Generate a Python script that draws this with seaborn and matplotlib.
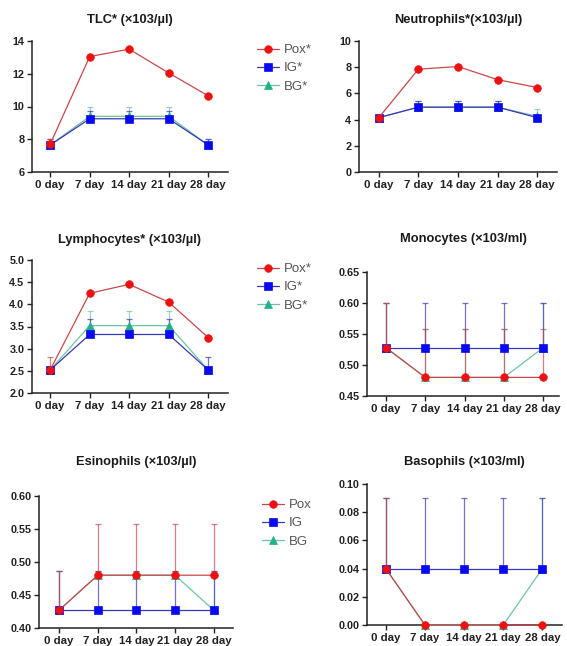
import numpy as np
import pandas as pd
import matplotlib
matplotlib.use("Agg")
import matplotlib.pyplot as plt
import seaborn as sns

days = ["0 day", "7 day", "14 day", "21 day", "28 day"]
groups = ["Pox", "IG", "BG"]

# means and upper SD per panel
tlc_pox = [7.7, 13.05, 13.5, 12.05, 10.65]
tlc_ig = [7.65, 9.25, 9.25, 9.25, 7.65]
tlc_bg = [7.65, 9.4, 9.4, 9.4, 7.65]
tlc_pox_sd = [0.3, 0.1, 0.1, 0.1, 0.1]
tlc_ig_sd = [0.35, 0.45, 0.45, 0.45, 0.35]
tlc_bg_sd = [0.35, 0.6, 0.6, 0.6, 0.35]

neu_pox = [4.15, 7.85, 8.05, 7.05, 6.45]
neu_ig = [4.15, 4.95, 4.95, 4.95, 4.15]
neu_bg = [4.15, 4.95, 4.95, 4.95, 4.25]
neu_pox_sd = [0.1, 0.1, 0.1, 0.1, 0.1]
neu_ig_sd = [0.1, 0.45, 0.45, 0.45, 0.1]
neu_bg_sd = [0.1, 0.45, 0.45, 0.45, 0.55]

lym_pox = [2.52, 4.25, 4.45, 4.05, 3.25]
lym_ig = [2.52, 3.32, 3.32, 3.32, 2.52]
lym_bg = [2.52, 3.52, 3.52, 3.52, 2.52]
lym_pox_sd = [0.3, 0.02, 0.02, 0.02, 0.02]
lym_ig_sd = [0.05, 0.36, 0.36, 0.36, 0.3]
lym_bg_sd = [0.05, 0.33, 0.33, 0.33, 0.05]

mon_pox = [0.528, 0.48, 0.48, 0.48, 0.48]
mon_ig = [0.528, 0.528, 0.528, 0.528, 0.528]
mon_bg = [0.528, 0.48, 0.48, 0.48, 0.528]
mon_pox_sd = [0.072, 0.078, 0.078, 0.078, 0.078]
mon_ig_sd = [0.072, 0.072, 0.072, 0.072, 0.072]
mon_bg_sd = [0.072, 0.078, 0.078, 0.078, 0.072]

eos_pox = [0.427, 0.48, 0.48, 0.48, 0.48]
eos_ig = [0.427, 0.427, 0.427, 0.427, 0.427]
eos_bg = [0.427, 0.48, 0.48, 0.48, 0.427]
eos_pox_sd = [0.06, 0.077, 0.077, 0.077, 0.077]
eos_ig_sd = [0.06, 0.06, 0.06, 0.06, 0.06]
eos_bg_sd = [0.06, 0.007, 0.007, 0.007, 0.06]

bas_pox = [0.04, 0.0, 0.0, 0.0, 0.0]
bas_ig = [0.04, 0.04, 0.04, 0.04, 0.04]
bas_bg = [0.04, 0.0, 0.0, 0.0, 0.04]
bas_pox_sd = [0.05, 0.0, 0.0, 0.0, 0.0]
bas_ig_sd = [0.05, 0.05, 0.05, 0.05, 0.05]
bas_bg_sd = [0.05, 0.0, 0.0, 0.0, 0.05]

line_col = {"Pox": "#c8474a", "IG": "#3838b8", "BG": "#6cc4a8"}
mark_col = {"Pox": "#ee1111", "IG": "#0a0af0", "BG": "#22b08a"}
markers = {"Pox": "o", "IG": "s", "BG": "^"}

sns.set_style("ticks")
plt.rcParams["font.family"] = ["Liberation Sans", "DejaVu Sans"]

fig = plt.figure(figsize=(5.67, 6.46), dpi=100)
W, H = 567, 646


def add_ax(left, right, top, bottom):
    return fig.add_axes([left / W, 1 - bottom / H, (right - left) / W, (bottom - top) / H])


def panel(ax, title, title_y, means, sds, ylim, yticks, fmt, xlim, legend=None):
    draw_order = ["BG", "IG", "Pox"]
    for g in draw_order:
        df = pd.DataFrame({"day": days, "value": means[g]})
        ax.errorbar(days, means[g], yerr=[np.zeros(len(days)), sds[g]], fmt="none",
                    ecolor=line_col[g], alpha=0.7, elinewidth=0.9, capsize=2.5,
                    capthick=0.9, clip_on=False, zorder=2)
        sns.lineplot(data=df, x="day", y="value", ax=ax, sort=False, color=line_col[g],
                     marker=markers[g], markersize=5.5, markerfacecolor=mark_col[g],
                     markeredgecolor=mark_col[g], markeredgewidth=0.5, linewidth=0.9,
                     label=legend[g] if legend else None, clip_on=False, zorder=3,
                     errorbar=None)
    ax.set_xlim(*xlim)
    ax.set_ylim(*ylim)
    ax.set_yticks(yticks)
    ax.set_yticklabels([fmt.format(v) for v in yticks])
    ax.set_xlabel("")
    ax.set_ylabel("")
    sns.despine(ax=ax)
    for s in ["left", "bottom"]:
        ax.spines[s].set_linewidth(1.1)
        ax.spines[s].set_color("#222222")
    ax.tick_params(axis="both", direction="out", length=3.5, width=1.0,
                   labelsize=7.8, colors="#222222", pad=2)
    ax.tick_params(axis="x", labelsize=8.2)
    for lab in ax.get_xticklabels() + ax.get_yticklabels():
        lab.set_fontweight("bold")
    bb = ax.get_position()
    fig.text((bb.x0 + bb.x1) / 2, 1 - title_y / H, title, ha="center", va="center",
             fontsize=9.3, fontweight="bold", color="#1a1a1a")
    if legend:
        h, l = ax.get_legend_handles_labels()
        order = [l.index(legend[g]) for g in groups]
        ax.legend([h[i] for i in order], [l[i] for i in order], loc="upper left",
                  bbox_to_anchor=(bb.x1 + 29 / W, bb.y1 - 3 / H), bbox_transform=fig.transFigure,
                  frameon=False, fontsize=9.5, labelcolor="#555555", handlelength=1.7,
                  handletextpad=0.35, labelspacing=0.45, borderpad=0, borderaxespad=0)
    elif ax.get_legend():
        ax.get_legend().remove()


star = {g: g + "*" for g in groups}
plain = {g: g for g in groups}

ax1 = add_ax(32, 228, 41, 172)
panel(ax1, "TLC* (×103/µl)", 20,
      {"Pox": tlc_pox, "IG": tlc_ig, "BG": tlc_bg},
      {"Pox": tlc_pox_sd, "IG": tlc_ig_sd, "BG": tlc_bg_sd},
      (6, 14), [6, 8, 10, 12, 14], "{:.0f}", (-0.46, 4.5), star)

ax2 = add_ax(359, 557, 41, 172)
panel(ax2, "Neutrophils*(×103/µl)", 20,
      {"Pox": neu_pox, "IG": neu_ig, "BG": neu_bg},
      {"Pox": neu_pox_sd, "IG": neu_ig_sd, "BG": neu_bg_sd},
      (0, 10), [0, 2, 4, 6, 8, 10], "{:.0f}", (-0.5, 4.5))

ax3 = add_ax(32, 228, 260, 393)
panel(ax3, "Lymphocytes* (×103/µl)", 240,
      {"Pox": lym_pox, "IG": lym_ig, "BG": lym_bg},
      {"Pox": lym_pox_sd, "IG": lym_ig_sd, "BG": lym_bg_sd},
      (2.0, 5.0), [2.0, 2.5, 3.0, 3.5, 4.0, 4.5, 5.0], "{:.1f}", (-0.46, 4.5), star)

ax4 = add_ax(367, 559, 272, 396)
panel(ax4, "Monocytes (×103/ml)", 239,
      {"Pox": mon_pox, "IG": mon_ig, "BG": mon_bg},
      {"Pox": mon_pox_sd, "IG": mon_ig_sd, "BG": mon_bg_sd},
      (0.45, 0.65), [0.45, 0.50, 0.55, 0.60, 0.65], "{:.2f}", (-0.48, 4.4))

ax5 = add_ax(39, 233, 496, 628)
panel(ax5, "Esinophils (×103/µl)", 462,
      {"Pox": eos_pox, "IG": eos_ig, "BG": eos_bg},
      {"Pox": eos_pox_sd, "IG": eos_ig_sd, "BG": eos_bg_sd},
      (0.40, 0.60), [0.40, 0.45, 0.50, 0.55, 0.60], "{:.2f}", (-0.52, 4.5), plain)

ax6 = add_ax(367, 562, 484, 625)
panel(ax6, "Basophils (×103/ml)", 462,
      {"Pox": bas_pox, "IG": bas_ig, "BG": bas_bg},
      {"Pox": bas_pox_sd, "IG": bas_ig_sd, "BG": bas_bg_sd},
      (0.0, 0.10), [0.00, 0.02, 0.04, 0.06, 0.08, 0.10], "{:.2f}", (-0.48, 4.5))

fig.savefig("out.png", dpi=100)
